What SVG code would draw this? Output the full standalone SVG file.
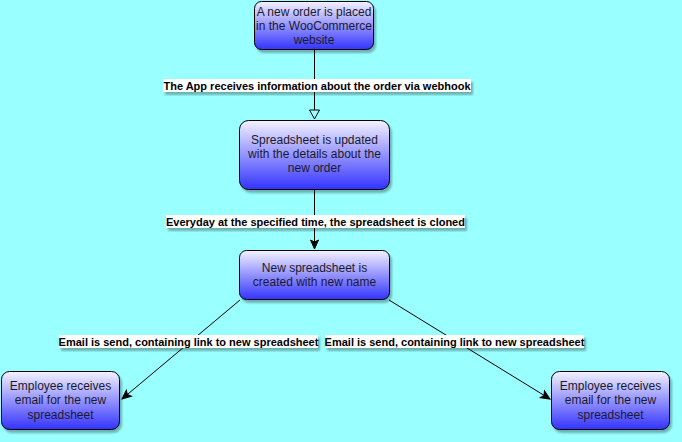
<svg xmlns="http://www.w3.org/2000/svg" width="682" height="442" viewBox="0 0 682 442">
<defs>
<linearGradient id="g" x1="0" y1="0" x2="0" y2="1">
<stop offset="0" stop-color="#f4f2ff"/>
<stop offset="1" stop-color="#3333ff"/>
</linearGradient>
<filter id="sh" x="-10%" y="-10%" width="130%" height="140%">
<feGaussianBlur in="SourceAlpha" stdDeviation="1.2"/>
<feOffset dx="2" dy="3" result="b"/>
<feComponentTransfer><feFuncA type="linear" slope="0.3"/></feComponentTransfer>
<feMerge><feMergeNode/><feMergeNode in="SourceGraphic"/></feMerge>
</filter>
<marker id="open" markerUnits="userSpaceOnUse" markerWidth="12" markerHeight="12" refX="9" refY="5" orient="auto" overflow="visible">
<path d="M0,0 L9,5 L0,10 Z" fill="#99ffff" stroke="#000" stroke-width="1"/>
</marker>
<marker id="cls" markerUnits="userSpaceOnUse" markerWidth="12" markerHeight="12" refX="9" refY="4" orient="auto" overflow="visible">
<path d="M0,0 L9,4 L0,8 L2,4 Z" fill="#000" stroke="#000" stroke-width="1"/>
</marker>
</defs>
<style>
.n{fill:url(#g);stroke:#000;stroke-width:1;filter:url(#sh)}
.t{font-family:"Liberation Sans",Arial,sans-serif;font-size:12px;fill:#1a1a2a;text-anchor:middle}
.lb{fill:#fff;filter:url(#sh)}
.lt{font-family:"Liberation Sans",Arial,sans-serif;font-size:11px;font-weight:bold;fill:#000;text-anchor:middle}
.e{stroke:#000;stroke-width:1;fill:none}
</style>
<rect width="682" height="442" fill="#99ffff"/>
<g id="connectors">
<line class="e" x1="314.5" y1="50" x2="314.5" y2="119" marker-end="url(#open)"/>
<line class="e" x1="314.5" y1="190" x2="314.5" y2="249" marker-end="url(#cls)"/>
<line class="e" x1="240" y1="300" x2="122" y2="399" marker-end="url(#cls)"/>
<line class="e" x1="389" y1="300" x2="550" y2="399" marker-end="url(#cls)"/>
<g id="label1"><rect class="lb" x="163" y="79" width="308" height="13"/><text class="lt" x="317" y="89.5">The App receives information about the order via webhook</text></g>
<g id="label2"><rect class="lb" x="166" y="215" width="299" height="13"/><text class="lt" x="315.5" y="225.5">Everyday at the specified time, the spreadsheet is cloned</text></g>
<g id="label3"><rect class="lb" x="59" y="335" width="259" height="13"/><text class="lt" x="188.5" y="345.5">Email is send, containing link to new spreadsheet</text></g>
<g id="label4"><rect class="lb" x="325" y="335" width="259" height="13"/><text class="lt" x="454.5" y="345.5">Email is send, containing link to new spreadsheet</text></g>
</g>
<g id="node1"><rect class="n" x="254.5" y="1.5" width="119" height="48" rx="7"/>
<text class="t" x="314" y="16">A new order is placed</text><text class="t" x="314" y="30">in the WooCommerce</text><text class="t" x="314" y="44">website</text></g>
<g id="node2"><rect class="n" x="239.5" y="120.5" width="150" height="69" rx="9"/>
<text class="t" x="314.5" y="144">Spreadsheet is updated</text><text class="t" x="314.5" y="158">with the details about the</text><text class="t" x="314.5" y="172">new order</text></g>
<g id="node3"><rect class="n" x="239.5" y="250.5" width="150" height="49" rx="7"/>
<text class="t" x="314.5" y="272">New spreadsheet is</text><text class="t" x="314.5" y="286">created with new name</text></g>
<g id="node4"><rect class="n" x="1.5" y="371.5" width="118" height="58" rx="8"/>
<text class="t" x="60.5" y="390">Employee receives</text><text class="t" x="60.5" y="404">email for the new</text><text class="t" x="60.5" y="419">spreadsheet</text></g>
<g id="node5"><rect class="n" x="551.5" y="371.5" width="118" height="58" rx="8"/>
<text class="t" x="610.5" y="390">Employee receives</text><text class="t" x="610.5" y="404">email for the new</text><text class="t" x="610.5" y="419">spreadsheet</text></g>
</svg>
